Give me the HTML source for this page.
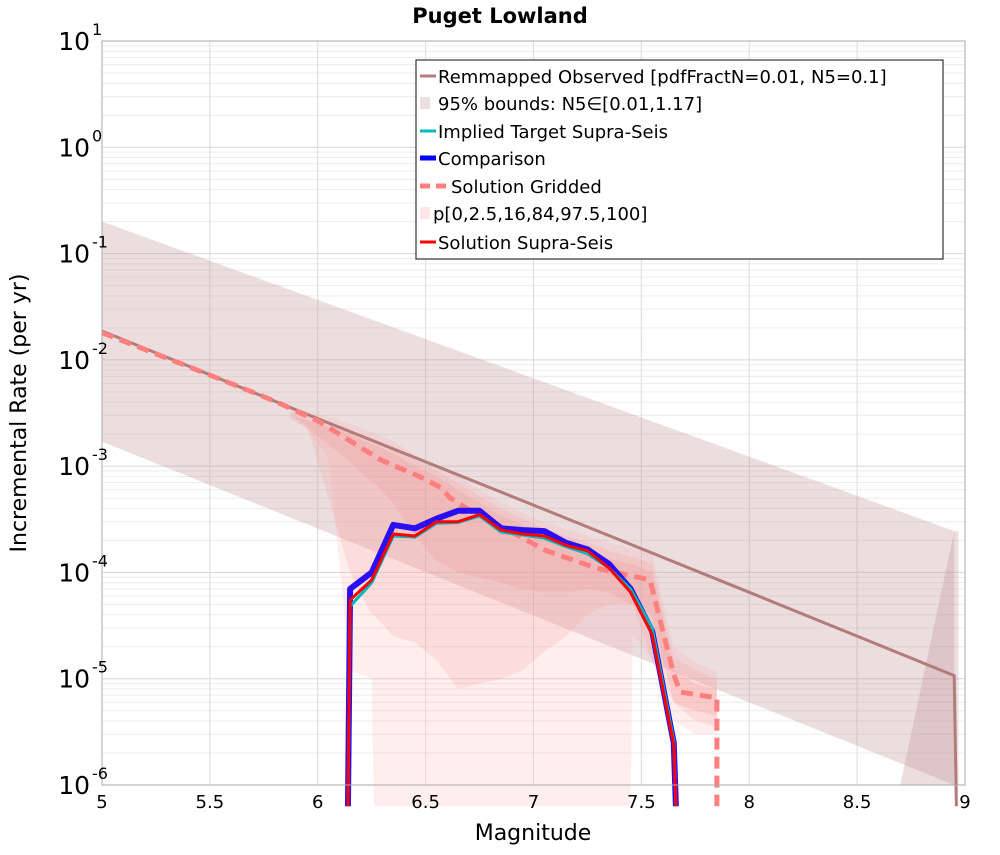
<!DOCTYPE html>
<html><head><meta charset="utf-8"><style>
body{margin:0;background:#fff;}
svg text{font-family:"DejaVu Sans","Liberation Sans",sans-serif;}
</style></head><body>
<svg id="chart" width="1000" height="850" xmlns="http://www.w3.org/2000/svg">
<text x="500" y="23" text-anchor="middle" font-size="21" font-weight="bold">Puget Lowland</text>
<g id="grid"></g>
<g id="bands"></g>
<g id="lines"></g>
<rect x="102" y="41" width="863" height="744" fill="none" stroke="#aaa" stroke-width="1"/>
<g id="ticks"></g>
<text x="533" y="840" text-anchor="middle" font-size="22">Magnitude</text>
<text transform="translate(26,413) rotate(-90)" text-anchor="middle" font-size="22">Incremental Rate (per yr)</text>
<g>
<rect x="416" y="60" width="527" height="199" fill="#fff" stroke="#333" stroke-width="1.2"/>
<line x1="420" y1="76" x2="436" y2="76" stroke="#b47b7b" stroke-width="3"/>
<text x="438" y="83" font-size="18">Remmapped Observed [pdfFractN=0.01, N5=0.1]</text>
<rect x="420" y="97" width="10" height="12" fill="#ebdfe0"/>
<text x="438" y="110" font-size="18">95% bounds: N5∈[0.01,1.17]</text>
<line x1="420" y1="131" x2="436" y2="131" stroke="#00bcbc" stroke-width="3"/>
<text x="438" y="138" font-size="18">Implied Target Supra-Seis</text>
<line x1="420" y1="158" x2="436" y2="158" stroke="#0000ff" stroke-width="5"/>
<text x="438" y="165" font-size="18">Comparison</text>
<line x1="420" y1="186" x2="448" y2="186" stroke="#ff7f7f" stroke-width="5" stroke-dasharray="10,6"/>
<text x="451" y="193" font-size="18">Solution Gridded</text>
<rect x="420" y="207" width="10" height="12" fill="#fde6e6"/>
<text x="433" y="220" font-size="18">p[0,2.5,16,84,97.5,100]</text>
<line x1="420" y1="242" x2="436" y2="242" stroke="#ff0000" stroke-width="3"/>
<text x="438" y="249" font-size="18">Solution Supra-Seis</text>
</g>
</svg>
<script>
const xTicks=[5,5.5,6,6.5,7,7.5,8,8.5,9];
const xTickLabels=["5","5.5","6","6.5","7","7.5","8","8.5","9"];
const yExps=[1,0,-1,-2,-3,-4,-5,-6];
const remapM=[5.0,6.0,7.0,8.0,8.95,8.96];
const remapV=[1.87e-2,2.8e-3,4.3e-4,6.5e-5,1.07e-5,1e-7];
const boundM=[5.0,8.95];
const boundHi=[0.2,2.45e-4];
const boundLo=[1.7e-3,1e-6];
const solM=[6.14,6.15,6.25,6.35,6.45,6.55,6.65,6.75,6.85,6.95,7.05,7.15,7.25,7.35,7.45,7.55,7.65,7.66];
const solV=[1e-7,5.5e-5,8.5e-5,2.3e-4,2.2e-4,3.0e-4,3.0e-4,3.5e-4,2.5e-4,2.3e-4,2.2e-4,1.8e-4,1.6e-4,1.1e-4,6.5e-5,2.6e-5,2.4e-6,1e-7];
const cmpV=[1e-7,7e-5,1e-4,2.8e-4,2.6e-4,3.2e-4,3.8e-4,3.8e-4,2.6e-4,2.5e-4,2.45e-4,1.9e-4,1.65e-4,1.2e-4,7e-5,2.8e-5,2.5e-6,1e-7];
const tgtV=[1e-7,4.8e-5,8e-5,2.2e-4,2.15e-4,2.9e-4,2.95e-4,3.4e-4,2.4e-4,2.25e-4,2.1e-4,1.75e-4,1.5e-4,1.1e-4,7e-5,3e-5,2.6e-6,1e-7];
const grdM=[5.0,5.5,5.8,6.01,6.29,6.47,6.57,6.61,6.69,6.85,7.06,7.29,7.54,7.65,7.68,7.85,7.85];
const grdV=[1.8e-2,7.2e-3,4.1e-3,2.6e-3,1.15e-3,8e-4,6.3e-4,5.1e-4,4e-4,2.7e-4,1.6e-4,1.1e-4,8.5e-5,1.1e-5,7.5e-6,6.6e-6,1e-7];
const pM=[5.87,5.95,6.05,6.15,6.25,6.26,6.35,6.45,6.55,6.65,6.75,6.85,6.95,7.05,7.15,7.25,7.35,7.45,7.46,7.55,7.65,7.75,7.85];
const p0Hi=[3.6e-3,3.3e-3,2.9e-3,2.5e-3,2.1e-3,2.1e-3,1.7e-3,1.3e-3,1e-3,8e-4,6e-4,4.6e-4,3.6e-4,3e-4,2.6e-4,2.2e-4,1.9e-4,1.7e-4,1.7e-4,1.5e-4,2e-5,1.4e-5,1.2e-5];
const p0Lo=[3.2e-3,2.2e-3,1.2e-3,1.2e-5,1e-5,1e-7,1e-7,1e-7,1e-7,1e-7,1e-7,1e-7,1e-7,1e-7,1e-7,1e-7,1e-7,1e-7,2.5e-5,1.5e-5,4e-6,3e-6,3e-6];
const p1Hi=[3.2e-3,3e-3,2.6e-3,2.2e-3,1.8e-3,1.8e-3,1.5e-3,1.15e-3,9e-4,7e-4,5.2e-4,4e-4,3.2e-4,2.6e-4,2.2e-4,1.9e-4,1.6e-4,1.4e-4,1.4e-4,1.2e-4,1.6e-5,1.2e-5,1e-5];
const p1Lo=[3e-3,2.4e-3,5e-4,1e-4,4e-5,4e-5,2.5e-5,2.2e-5,1.5e-5,8e-6,9e-6,1e-5,1.2e-5,1.8e-5,2.5e-5,4e-5,5e-5,5e-5,5e-5,1.5e-5,6e-6,4e-6,3.5e-6];
const p2Hi=[3e-3,2.7e-3,2.3e-3,2e-3,1.6e-3,1.6e-3,1.3e-3,1e-3,8e-4,6e-4,4.5e-4,3.4e-4,2.8e-4,2.3e-4,1.9e-4,1.6e-4,1.35e-4,1.2e-4,1.2e-4,1e-4,1.2e-5,9e-6,8e-6];
const p2Lo=[2.8e-3,2.3e-3,1.6e-3,1.1e-3,7e-4,7e-4,4.5e-4,2.2e-4,1.3e-4,1e-4,9e-5,8e-5,7e-5,6.5e-5,6.5e-5,7e-5,6.5e-5,5e-5,5e-5,4e-5,6e-6,5e-6,4.5e-6];

const L=102,R=965,T=41,B=785;
function X(m){return L+(m-5)/4*(R-L);}
function Y(v){let lv=Math.log10(v);if(lv<-6.2)lv=-6.2;return T+(1-lv)*(B-T)/7;}
const NS="http://www.w3.org/2000/svg";
function mk(tag,attrs,parent){const e=document.createElementNS(NS,tag);for(const k in attrs)e.setAttribute(k,attrs[k]);document.getElementById(parent).appendChild(e);return e;}
// grid
for(let i=0;i<7;i++){for(let k=1;k<10;k++){const v=Math.pow(10,-6+i)*k;const y=Y(v);
 const g=mk('line',{x1:L,x2:R,y1:y,y2:y,stroke:k==1?'#d8d8d8':'#ececec','stroke-width':1},'grid');
 }}
for(let m=5;m<=9.001;m+=0.5){const x=X(m);const g=mk('line',{x1:x,x2:x,y1:T,y2:B,stroke:'#dcdcdc','stroke-width':1},'grid');
 }
function band(ms,hi,lo,fill,name){let pts=[];for(let i=0;i<ms.length;i++)pts.push(X(ms[i])+','+Y(hi[i]));for(let i=ms.length-1;i>=0;i--)pts.push(X(ms[i])+','+Y(lo[i]));
 const p=mk('polygon',{points:pts.join(' '),fill:fill},'bands');}
band(boundM,boundHi,boundLo,'rgba(185,135,140,0.28)','bounds-band');
const bedge=mk('polygon',{points:X(8.95)+','+Y(boundHi[1])+' '+X(8.97)+','+Y(boundHi[1])+' '+X(8.97)+','+B+' '+X(8.7)+','+B,fill:'rgba(185,135,140,0.28)'},'bands');

band(pM,p0Hi,p0Lo,'rgba(255,170,170,0.2)','percentile-band-0-100');
band(pM,p1Hi,p1Lo,'rgba(245,150,150,0.2)','percentile-band-2.5-97.5');
band(pM,p2Hi,p2Lo,'rgba(240,140,140,0.22)','percentile-band-16-84');
function line(ms,vs,color,w,name,dash){const d=ms.map((m,i)=>(i?'L':'M')+X(m)+','+Y(vs[i])).join(' ');
 const a={d:d,fill:'none',stroke:color,'stroke-width':w,'stroke-linejoin':'round'};if(dash)a['stroke-dasharray']=dash;
 const p=mk('path',a,'lines');}
line(remapM,remapV,'#b47b7b',3,'remapped-observed-line');
line(grdM,grdV,'#ff7f7f',5,'solution-gridded-line','12,7');
line(solM,cmpV,'#2a10f0',6,'comparison-line');
line(solM,tgtV,'#00b8b8',3,'implied-target-line');
line(solM,solV,'#ff0000',3,'solution-supra-seis-line');
// ticks
xTicks.forEach((m,i)=>{const t=mk('text',{x:X(m),y:808,'text-anchor':'middle','font-size':18},'ticks');t.textContent=xTickLabels[i];
 });
yExps.forEach(e=>{const y=Y(Math.pow(10,e));const t=mk('text',{x:90,y:y+9,'text-anchor':'end','font-size':25},'ticks');t.textContent='10';
 
 const s=mk('text',{x:92,y:y-6,'font-size':16},'ticks');s.textContent=String(e);
 });
</script>
</body></html>
